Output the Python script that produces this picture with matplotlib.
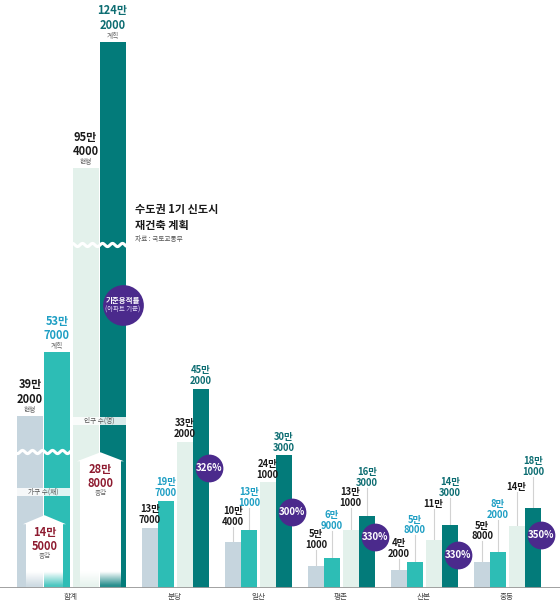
import numpy as np
import matplotlib.pyplot as plt
from matplotlib.patches import Polygon, Rectangle

plt.rcParams['font.family'] = ['Noto Sans CJK KR', 'DejaVu Sans']

# data (unit: 만)
cities = ['합계', '분당', '일산', '평촌', '산본', '중동']
house_now = [39.2, 13.7, 10.4, 5.1, 4.2, 5.8]
house_plan = [53.7, 19.7, 13.1, 6.9, 5.8, 8.2]
pop_now = [95.4, 33.2, 24.1, 13.1, 11.0, 14.0]
pop_plan = [124.2, 45.2, 30.3, 16.3, 14.3, 18.1]
far_rate = ['326%', '300%', '330%', '330%', '350%']
house_inc = 14.5
pop_inc = 28.8

series = [house_now, house_plan, pop_now, pop_plan]
bar_colors = ['#c6d5de', '#2dbdb5', '#e3f1eb', '#037b7a']
label_colors = ['#1a1a1a', '#1f9fc4', '#1a1a1a', '#0d6d72']
sub_words = ['현행', '계획', '현행', '계획']

# layout (pixels)
W, H = 560, 605
base_px = 588
ppu = 4.4  # pixels per 만

def v(px):
    return (base_px - px) / ppu

def p(n):
    return n / ppu

fig = plt.figure(figsize=(W / 100, H / 100), dpi=100)
ax = fig.add_axes([0, (H - base_px) / H, 1, base_px / H])

centers = [71] + [175 + 83 * i for i in range(5)]
offs_total = [-41, -14, 14.5, 41.5]
offs_city = [-25, -9, 9.5, 26]
lifts = [None, [3, 3, 3, 3], [15, 22, 2, 2], [16, 27, 22, 28],
         [11, 27, 31, 27], [21, 32, 34, 31]]
circle_py = [468, 512, 537, 555, 535]
LS = 1.12

def fmt(val):
    man = int(val)
    rest = int(round((val - man) * 10000))
    return f'{man}만\n{rest}' if rest else f'{man}만'

for g, c in enumerate(centers):
    offs = offs_total if g == 0 else offs_city
    w = 26 if g == 0 else 16
    for k in range(4):
        x = c + offs[k]
        h = series[k][g]
        ax.bar(x, h, width=w, color=bar_colors[k], linewidth=0, zorder=2)
        if g == 0:
            ax.text(x, h + p(2), sub_words[k], ha='center', va='bottom',
                    fontsize=4.8, color='#666666', zorder=6)
            ax.text(x, h + p(10), fmt(h), ha='center', va='bottom',
                    fontsize=8, fontweight='bold', color=label_colors[k],
                    linespacing=LS, zorder=6)
        else:
            lift = lifts[g][k]
            if lift > 5:
                ax.plot([x, x], [h, h + p(lift)], color='#d2d2d2', lw=0.8, zorder=1)
            ax.text(x, h + p(lift), fmt(h), ha='center', va='bottom',
                    fontsize=6.8, fontweight='bold', color=label_colors[k],
                    linespacing=LS, zorder=6)
    ax.text(c, v(597), cities[g], ha='center', va='center', fontsize=5.5,
            color='#444444')

# percent circles
for i, r in enumerate(far_rate):
    cx = centers[i + 1] + offs_city[3] + 8
    ax.scatter(cx, v(circle_py[i]), s=400, color='#4b2a8c', zorder=7, linewidths=0)
    ax.text(cx, v(circle_py[i]), r, ha='center', va='center', fontsize=7,
            fontweight='bold', color='white', zorder=8)

# 기준용적률 circle
ax.scatter(123, v(305), s=860, color='#4b2a8c', zorder=7, linewidths=0)
ax.text(123, v(300), '기준용적률', ha='center', va='center', fontsize=5.4,
        fontweight='bold', color='white', zorder=8)
ax.text(123, v(309.5), '(아파트 기준)', ha='center', va='center', fontsize=4.6,
        color='#e6defa', zorder=8)

# wavy breaks
xs = np.linspace(17, 70, 300)
ax.plot(xs, v(452) + p(1.6) * np.sin(2 * np.pi * xs / 10), color='white', lw=2.2, zorder=3)
xs = np.linspace(72.5, 125.5, 300)
ax.plot(xs, v(245) + p(1.6) * np.sin(2 * np.pi * xs / 10), color='white', lw=2.2, zorder=3)

# band labels
ax.add_patch(Rectangle((17, v(496)), 53, p(8), color='white', alpha=0.85, lw=0, zorder=3))
ax.text(43.5, v(492), '가구 수(채)', ha='center', va='center', fontsize=4.8,
        color='#555555', zorder=4)
ax.add_patch(Rectangle((72.5, v(425)), 53, p(8), color='white', alpha=0.85, lw=0, zorder=3))
ax.text(99, v(421), '인구 수(명)', ha='center', va='center', fontsize=4.8,
        color='#555555', zorder=4)

# white arrows for 증감
def arrow(head, body, tip_x, inc, label):
    sh = inc
    tip = inc + p(9)
    pts = [(body[0], 0), (body[0], sh), (head[0], sh), (tip_x, tip),
           (head[1], sh), (body[1], sh), (body[1], 0)]
    poly = Polygon(pts, closed=True, facecolor='none', edgecolor='none')
    ax.add_patch(poly)
    n = 200
    rows = np.linspace(tip, 0, n)
    alpha = np.clip(rows / p(16), 0.15, 1.0)
    img = np.ones((n, 1, 4))
    img[:, 0, 3] = alpha
    im = ax.imshow(img, extent=(head[0], head[1], 0, tip), aspect='auto',
                   origin='upper', zorder=4, interpolation='bilinear')
    im.set_clip_path(poly)
    ax.text(tip_x, sh - p(2), fmt(inc), ha='center', va='top', fontsize=8,
            fontweight='bold', color='#8e1b30', linespacing=LS, zorder=6)
    ax.text(tip_x, sh - p(28), label, ha='center', va='top', fontsize=4.8,
            color='#666666', zorder=6)

arrow((23, 66), (26, 63), 44.5, house_inc, '증감')
arrow((77, 124), (80, 121), 100.5, pop_inc, '증감')

ax.axhline(0, color='#9a9a9a', lw=1.3, zorder=5)
ax.set_xlim(0, W)
ax.set_ylim(0, base_px / ppu)
ax.axis('off')

# title
fig.text(135 / W, 1 - 209 / H, '수도권 1기 신도시', fontsize=8, fontweight='bold',
         color='#1a1a1a', va='center')
fig.text(135 / W, 1 - 225 / H, '재건축 계획', fontsize=8, fontweight='bold',
         color='#1a1a1a', va='center')
fig.text(135 / W, 1 - 239 / H, '자료 : 국토교통부', fontsize=4.8,
         color='#555555', va='center')

fig.savefig('out.png', dpi=100)
